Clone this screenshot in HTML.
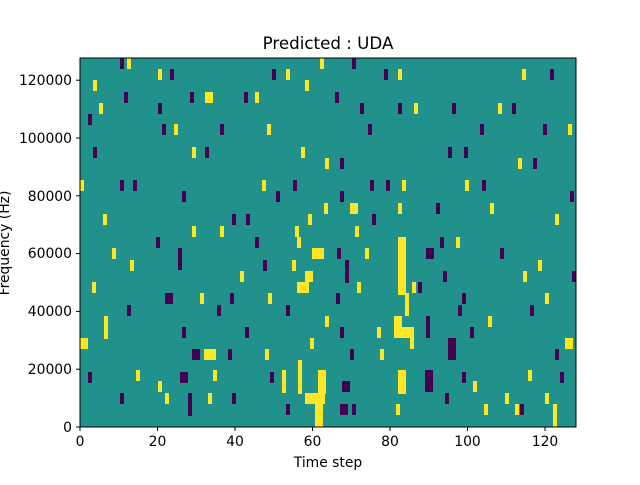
<!DOCTYPE html>
<html><head><meta charset="utf-8"><style>
body{margin:0;background:#fff;}
svg text{font-family:"DejaVu Sans","Liberation Sans",sans-serif;fill:#000;}
</style></head><body>
<svg width="640" height="480" viewBox="0 0 640 480" xmlns="http://www.w3.org/2000/svg">
<rect width="640" height="480" fill="#fff"/>
<rect x="80" y="58" width="496" height="369" fill="#21918c"/>
<g fill="#fde725">
<rect x="127" y="58" width="4" height="11"/><rect x="320" y="58" width="4" height="11"/>
<rect x="158" y="69" width="4" height="11"/><rect x="286" y="69" width="4" height="11"/><rect x="398" y="69" width="4" height="11"/><rect x="522" y="69" width="4" height="11"/>
<rect x="93" y="80" width="4" height="11"/><rect x="305" y="80" width="4" height="11"/>
<rect x="205" y="92" width="8" height="11"/><rect x="255" y="92" width="4" height="11"/>
<rect x="99" y="103" width="4" height="11"/><rect x="498" y="103" width="4" height="11"/><rect x="414" y="103" width="4" height="11"/>
<rect x="174" y="124" width="4" height="11"/><rect x="267" y="124" width="4" height="11"/><rect x="568" y="124" width="4" height="11"/>
<rect x="192" y="147" width="4" height="11"/><rect x="301" y="147" width="4" height="11"/><rect x="325" y="158" width="4" height="11"/><rect x="518" y="158" width="4" height="11"/>
<rect x="80" y="180" width="4" height="11"/><rect x="262" y="180" width="4" height="11"/><rect x="402" y="180" width="4" height="11"/><rect x="465" y="180" width="4" height="11"/>
<rect x="324" y="203" width="4" height="11"/><rect x="350" y="203" width="8" height="11"/><rect x="398" y="203" width="4" height="11"/><rect x="490" y="203" width="4" height="11"/>
<rect x="103" y="214" width="4" height="11"/><rect x="555" y="214" width="4" height="11"/><rect x="308" y="214" width="4" height="11"/>
<rect x="192" y="226" width="4" height="11"/><rect x="220" y="226" width="4" height="11"/><rect x="295" y="226" width="4" height="11"/><rect x="355" y="226" width="4" height="11"/>
<rect x="398" y="237" width="8" height="58"/><rect x="456" y="237" width="4" height="11"/><rect x="297" y="237" width="4" height="11"/>
<rect x="112" y="248" width="4" height="11"/><rect x="312" y="248" width="12" height="11"/><rect x="365" y="248" width="4" height="11"/>
<rect x="130" y="260" width="4" height="11"/><rect x="292" y="260" width="4" height="11"/><rect x="538" y="260" width="4" height="11"/>
<rect x="305" y="271" width="8" height="11"/><rect x="523" y="271" width="4" height="11"/><rect x="240" y="271" width="4" height="11"/>
<rect x="297" y="282" width="12" height="11"/><rect x="92" y="282" width="4" height="11"/><rect x="357" y="282" width="4" height="11"/><rect x="412" y="282" width="4" height="11"/>
<rect x="200" y="293" width="4" height="11"/><rect x="268" y="293" width="4" height="11"/><rect x="545" y="293" width="4" height="11"/><rect x="405" y="293" width="4" height="23"/>
<rect x="104" y="316" width="4" height="23"/><rect x="325" y="316" width="4" height="11"/><rect x="488" y="316" width="4" height="11"/><rect x="394" y="316" width="8" height="22"/><rect x="402" y="327" width="12" height="11"/>
<rect x="80" y="338" width="8" height="11"/><rect x="565" y="338" width="8" height="11"/><rect x="377" y="327" width="4" height="11"/><rect x="410" y="338" width="4" height="11"/><rect x="310" y="338" width="4" height="11"/>
<rect x="204" y="349" width="12" height="11"/><rect x="265" y="349" width="4" height="11"/><rect x="380" y="349" width="4" height="11"/>
<rect x="298" y="360" width="4" height="34"/><rect x="318" y="370" width="8" height="24"/><rect x="398" y="370" width="8" height="24"/><rect x="528" y="370" width="4" height="11"/>
<rect x="136" y="370" width="4" height="11"/><rect x="213" y="370" width="4" height="11"/><rect x="282" y="370" width="4" height="23"/>
<rect x="158" y="381" width="4" height="11"/><rect x="473" y="381" width="4" height="11"/>
<rect x="165" y="393" width="4" height="11"/><rect x="208" y="393" width="4" height="11"/><rect x="305" y="393" width="20" height="11"/><rect x="505" y="393" width="4" height="11"/><rect x="545" y="393" width="4" height="11"/>
<rect x="315" y="404" width="8" height="23"/><rect x="396" y="404" width="4" height="11"/><rect x="553" y="404" width="4" height="23"/><rect x="515" y="404" width="4" height="11"/><rect x="484" y="404" width="4" height="11"/>
</g>
<g fill="#440154">
<rect x="120" y="58" width="4" height="11"/><rect x="352" y="58" width="4" height="11"/>
<rect x="170" y="69" width="4" height="11"/><rect x="272" y="69" width="4" height="11"/><rect x="384" y="69" width="4" height="11"/><rect x="550" y="69" width="4" height="11"/>
<rect x="190" y="92" width="4" height="11"/><rect x="124" y="92" width="4" height="11"/><rect x="244" y="92" width="4" height="11"/><rect x="335" y="92" width="4" height="11"/>
<rect x="158" y="103" width="4" height="11"/><rect x="398" y="103" width="4" height="11"/><rect x="452" y="103" width="4" height="11"/><rect x="512" y="103" width="4" height="11"/><rect x="360" y="103" width="4" height="11"/>
<rect x="88" y="114" width="4" height="11"/><rect x="220" y="124" width="4" height="11"/><rect x="162" y="124" width="4" height="11"/><rect x="368" y="124" width="4" height="11"/><rect x="480" y="124" width="4" height="11"/><rect x="543" y="124" width="4" height="11"/>
<rect x="93" y="147" width="4" height="11"/><rect x="205" y="147" width="4" height="11"/><rect x="448" y="147" width="4" height="11"/><rect x="464" y="147" width="4" height="11"/><rect x="340" y="158" width="4" height="11"/><rect x="533" y="158" width="4" height="11"/>
<rect x="120" y="180" width="4" height="11"/><rect x="133" y="180" width="4" height="11"/><rect x="293" y="180" width="4" height="11"/><rect x="370" y="180" width="4" height="11"/><rect x="386" y="180" width="4" height="11"/><rect x="482" y="180" width="4" height="11"/>
<rect x="182" y="191" width="4" height="11"/><rect x="276" y="191" width="4" height="11"/><rect x="340" y="191" width="4" height="11"/><rect x="570" y="191" width="4" height="11"/>
<rect x="246" y="214" width="4" height="11"/><rect x="372" y="214" width="4" height="11"/><rect x="436" y="203" width="4" height="11"/><rect x="232" y="214" width="4" height="11"/>
<rect x="156" y="237" width="4" height="11"/><rect x="255" y="237" width="4" height="11"/><rect x="337" y="248" width="4" height="11"/><rect x="426" y="248" width="8" height="11"/><rect x="440" y="237" width="4" height="11"/><rect x="500" y="248" width="4" height="11"/>
<rect x="178" y="248" width="4" height="22"/><rect x="263" y="260" width="4" height="11"/><rect x="345" y="260" width="4" height="23"/><rect x="443" y="271" width="4" height="11"/><rect x="572" y="271" width="4" height="11"/>
<rect x="165" y="293" width="8" height="11"/><rect x="230" y="293" width="4" height="11"/><rect x="336" y="293" width="4" height="11"/><rect x="462" y="293" width="4" height="11"/><rect x="418" y="282" width="4" height="11"/>
<rect x="127" y="305" width="4" height="11"/><rect x="217" y="305" width="4" height="11"/><rect x="286" y="305" width="4" height="11"/><rect x="530" y="305" width="4" height="11"/><rect x="458" y="305" width="4" height="11"/>
<rect x="182" y="327" width="4" height="11"/><rect x="245" y="327" width="4" height="11"/><rect x="340" y="327" width="4" height="11"/><rect x="426" y="316" width="4" height="22"/><rect x="470" y="327" width="4" height="11"/>
<rect x="192" y="349" width="8" height="11"/><rect x="228" y="349" width="4" height="11"/><rect x="448" y="338" width="8" height="22"/><rect x="555" y="349" width="4" height="11"/><rect x="350" y="349" width="4" height="11"/>
<rect x="88" y="372" width="4" height="11"/><rect x="180" y="372" width="8" height="11"/><rect x="270" y="372" width="4" height="11"/><rect x="425" y="370" width="8" height="22"/><rect x="462" y="372" width="4" height="11"/><rect x="560" y="372" width="4" height="11"/>
<rect x="342" y="381" width="8" height="11"/><rect x="120" y="393" width="4" height="11"/><rect x="232" y="393" width="4" height="11"/><rect x="445" y="393" width="4" height="11"/>
<rect x="188" y="393" width="4" height="23"/><rect x="340" y="404" width="8" height="11"/><rect x="352" y="404" width="4" height="11"/><rect x="286" y="404" width="4" height="11"/><rect x="520" y="404" width="4" height="11"/>
</g>
<rect x="80" y="58" width="496" height="369" fill="none" stroke="#000" stroke-width="1"/>
<g stroke="#000" stroke-width="1">
<line x1="80" y1="427" x2="80" y2="431"/><line x1="157.5" y1="427" x2="157.5" y2="431"/><line x1="235" y1="427" x2="235" y2="431"/><line x1="312.5" y1="427" x2="312.5" y2="431"/><line x1="390" y1="427" x2="390" y2="431"/><line x1="467.5" y1="427" x2="467.5" y2="431"/><line x1="545" y1="427" x2="545" y2="431"/>
<line x1="76" y1="427" x2="80" y2="427"/><line x1="76" y1="369.2" x2="80" y2="369.2"/><line x1="76" y1="311.4" x2="80" y2="311.4"/><line x1="76" y1="253.6" x2="80" y2="253.6"/><line x1="76" y1="195.8" x2="80" y2="195.8"/><line x1="76" y1="138" x2="80" y2="138"/><line x1="76" y1="80.2" x2="80" y2="80.2"/>
</g>
<g font-size="13.9" text-anchor="middle">
<text x="80" y="446">0</text><text x="157.5" y="446">20</text><text x="235" y="446">40</text><text x="312.5" y="446">60</text><text x="390" y="446">80</text><text x="467.5" y="446">100</text><text x="545" y="446">120</text>
</g>
<g font-size="13.9" text-anchor="end">
<text x="72" y="432">0</text><text x="72" y="374">20000</text><text x="72" y="316">40000</text><text x="72" y="258">60000</text><text x="72" y="201">80000</text><text x="72" y="143">100000</text><text x="72" y="85">120000</text>
</g>
<text x="328" y="467" font-size="13.9" text-anchor="middle">Time step</text>
<text x="9" y="243" font-size="13.9" text-anchor="middle" transform="rotate(-90 9 243)">Frequency (Hz)</text>
<text x="328" y="49" font-size="16.7" text-anchor="middle">Predicted : UDA</text>
</svg>
</body></html>
